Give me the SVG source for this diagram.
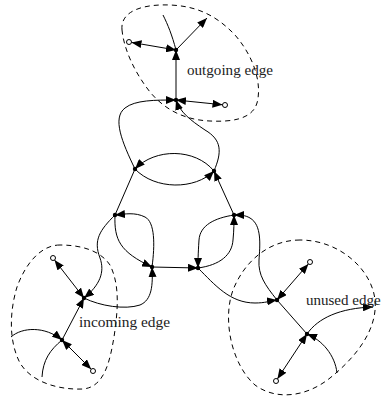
<svg xmlns="http://www.w3.org/2000/svg" width="381" height="402" viewBox="0 0 381 402">
<style>
.e{fill:none;stroke:#000;stroke-width:1}
.a{marker-end:url(#ah)}
.b{marker-start:url(#ah);marker-end:url(#ah)}
.blob{fill:none;stroke:#000;stroke-width:1;stroke-dasharray:5,4}
.dot{fill:#000}
.term{fill:#fff;stroke:#000;stroke-width:1}
.lbl{font-family:"Liberation Serif","DejaVu Serif",serif;font-size:15px;fill:#222}
</style>
<defs>
<marker id="ah" viewBox="0 0 10 8" refX="10" refY="4" markerWidth="10" markerHeight="8" markerUnits="userSpaceOnUse" orient="auto-start-reverse">
<path d="M0,0 L10,4 L0,8 z" fill="#000"/>
</marker>
</defs>
<g id="regions">
<path class="blob" d="M122,30 C120,10 145,4 170,5 C195,6 215,14 235,35 C255,58 262,85 257,103 C252,120 230,122 210,121 C185,120 165,110 150,92 C135,73 124,50 122,30 Z"/>
<path class="blob" d="M60,245 C40,245 25,265 17,287 C10,310 8,340 20,363 C32,383 60,390 83,389 C105,387 110,360 114,337 C118,310 120,285 110,265 C100,250 80,245 60,245 Z"/>
<path class="blob" d="M300,240 C270,240 245,260 233,290 C222,320 232,365 255,385 C275,400 305,398 330,378 C355,358 378,330 375,300 C372,270 340,240 300,240 Z"/>
</g>
<g id="connectors">
<path class="e b" d="M176,50 L131.5,42.4"/>
<path class="e a" d="M176,100 L176,50"/>
<path class="e a" d="M176,50 L207,18"/>
<path class="e" d="M163,15 C168,25 172,35 176,50"/>
<path class="e b" d="M176,100 L222.5,104.75"/>
<path class="e a" d="M135,169 C122,142 112,118 125,108 C135,100 155,100 176,100"/>
<path class="e a" d="M214,171 C222,152 222,140 205,130 C190,120 180,112 176,100"/>
<path class="e a" d="M214,171 C195,148 155,148 135,169"/>
<path class="e a" d="M135,169 C155,190 195,190 214,171"/>
<path class="e" d="M135,169 L115,215"/>
<path class="e a" d="M234,215 L214,171"/>
<path class="e a" d="M152,267 C155,245 155,222 145,217 C135,212 125,214 115,215"/>
<path class="e a" d="M115,215 C114,240 120,252 152,267"/>
<path class="e a" d="M115,215 C100,230 93,240 100,258 C105,272 100,285 84,298"/>
<path class="e a" d="M84,298 C100,306 125,310 140,305 C152,300 153,285 152,267"/>
<path class="e a" d="M152,267 L198,268"/>
<path class="e a" d="M234,215 C215,218 200,225 199,240 C198,255 198,262 198,268"/>
<path class="e a" d="M198,268 C220,265 232,255 233,240 C234,230 234,222 234,215"/>
<path class="e a" d="M277,300 C265,285 258,275 259,260 C260,245 262,225 250,218 C245,215 240,215 234,215"/>
<path class="e a" d="M198,268 C215,285 230,303 255,303 C265,303 270,301 277,300"/>
<path class="e b" d="M277,300 L308.4,263.9"/>
<path class="e" d="M277,300 L307,334"/>
<path class="e b" d="M307,334 L277.4,378.9"/>
<path class="e a" d="M307,334 C318,318 340,308 373,307"/>
<path class="e a" d="M337,373 C335,355 322,340 307,334"/>
<path class="e b" d="M84,298 L54.5,260"/>
<path class="e a" d="M62,340 L84,298"/>
<path class="e b" d="M62,340 L91.2,369.2"/>
<path class="e a" d="M11,337 C22,327 45,326 62,340"/>
<path class="e" d="M42,377 C43,360 50,350 62,340"/>
</g>
<g id="nA"><circle class="dot" cx="176" cy="50" r="2.2"/></g>
<g id="nB"><circle class="dot" cx="176" cy="100" r="2.2"/></g>
<g id="nC"><circle class="dot" cx="135" cy="169" r="2.2"/></g>
<g id="nD"><circle class="dot" cx="214" cy="171" r="2.2"/></g>
<g id="nE"><circle class="dot" cx="115" cy="215" r="2.2"/></g>
<g id="nF"><circle class="dot" cx="234" cy="215" r="2.2"/></g>
<g id="nG"><circle class="dot" cx="152" cy="267" r="2.2"/></g>
<g id="nH"><circle class="dot" cx="198" cy="268" r="2.2"/></g>
<g id="nI"><circle class="dot" cx="84" cy="298" r="2.2"/></g>
<g id="nJ"><circle class="dot" cx="62" cy="340" r="2.2"/></g>
<g id="nK"><circle class="dot" cx="277" cy="300" r="2.2"/></g>
<g id="nL"><circle class="dot" cx="307" cy="334" r="2.2"/></g>
<g id="t1"><circle class="term" cx="129" cy="42" r="2.5"/></g>
<g id="t2"><circle class="term" cx="225" cy="105" r="2.5"/></g>
<g id="t3"><circle class="term" cx="53" cy="258" r="2.5"/></g>
<g id="t4"><circle class="term" cx="93" cy="371" r="2.5"/></g>
<g id="t5"><circle class="term" cx="310" cy="262" r="2.5"/></g>
<g id="t6"><circle class="term" cx="276" cy="381" r="2.5"/></g>
<g id="labels">
<text class="lbl" x="187" y="75" textLength="86" lengthAdjust="spacingAndGlyphs">outgoing edge</text>
<text class="lbl" x="79" y="327" textLength="91" lengthAdjust="spacingAndGlyphs">incoming edge</text>
<text class="lbl" x="306" y="305">unused edge</text>
</g>
</svg>
